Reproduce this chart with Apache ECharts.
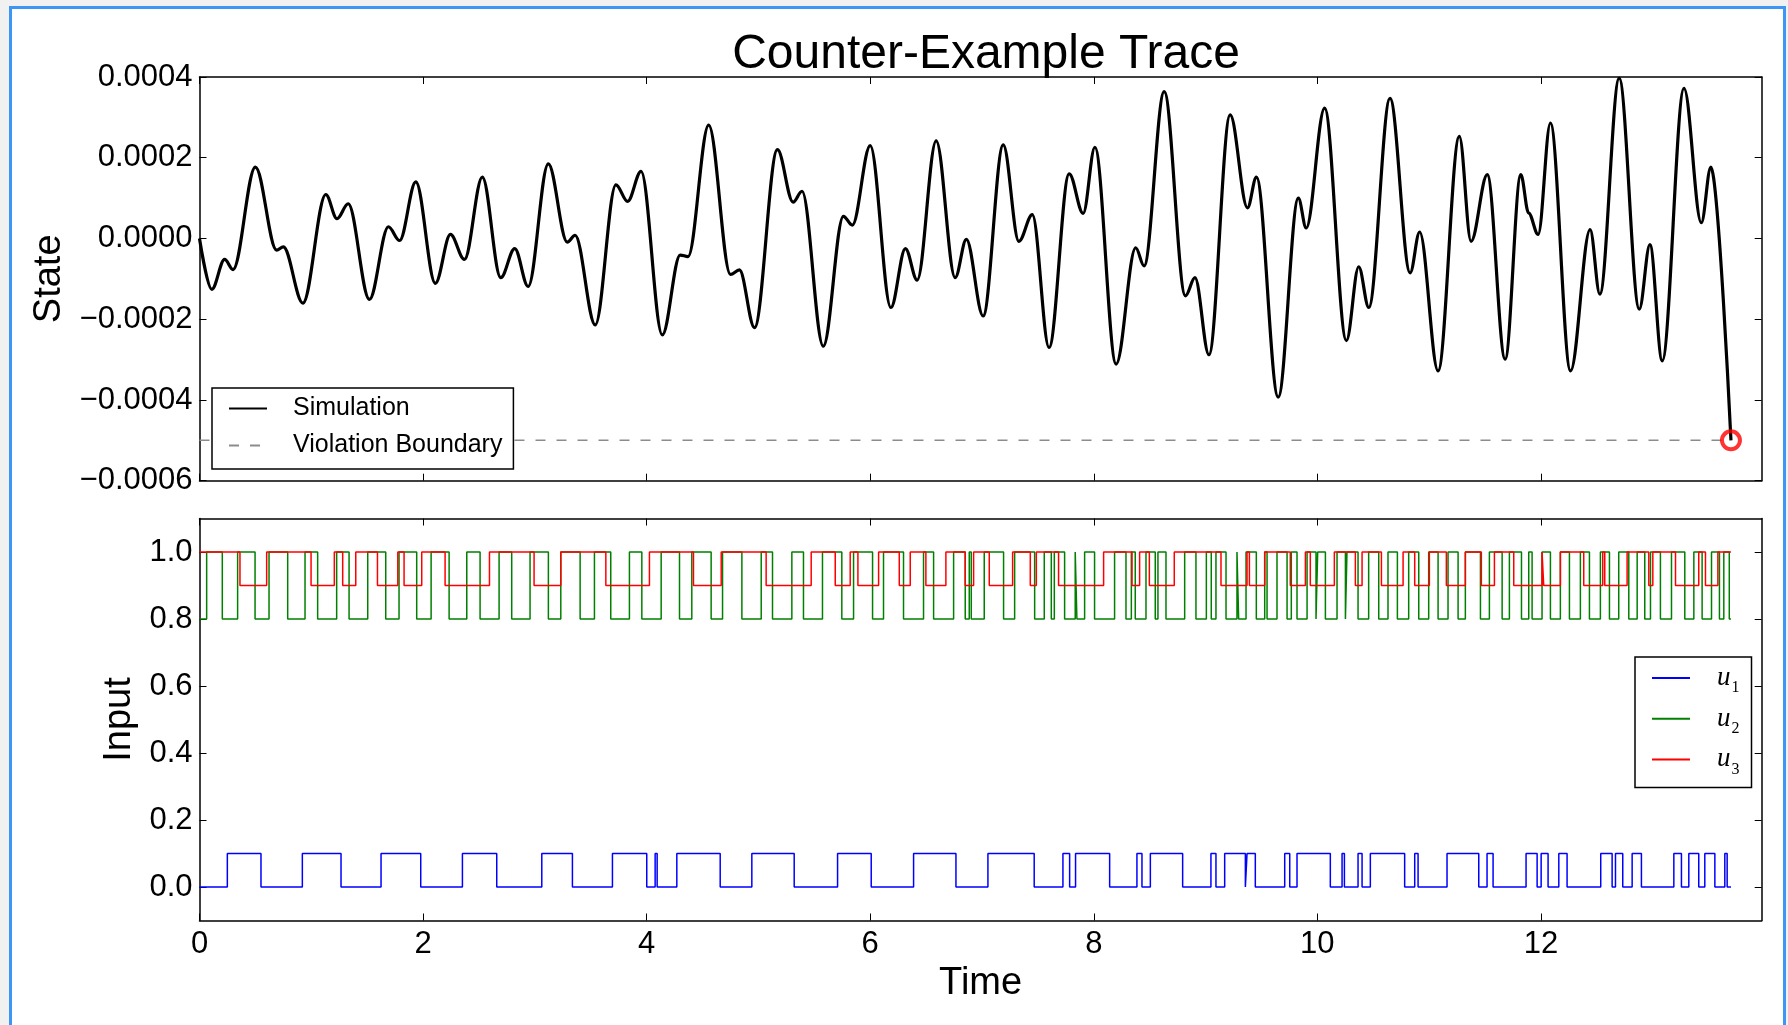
<!DOCTYPE html>
<html>
<head>
<meta charset="utf-8">
<title>Counter-Example Trace</title>
<script src="https://cdn.jsdelivr.net/npm/echarts@6/dist/echarts.min.js"></script>
<style>
    html, body { margin: 0; padding: 0; background: #f1f1f1; overflow: hidden; }
    #frame { position: absolute; left: 9px; top: 6px; width: 1771px; height: 1100px; border: 3px solid #3d96f5; background: #fff; }
    #main { position: absolute; left: 0; top: 0; width: 1788px; height: 1025px; }
</style>
</head>
<body>
<div id="frame"></div>
<div id="main"></div>
<script>
// state trace, read at its turning points (values in units of 1e-4)
var stateT = [0, 0.11, 0.225, 0.30, 0.50, 0.69, 0.75, 0.925, 1.13, 1.23,
    1.33, 1.52, 1.69, 1.79, 1.935, 2.11, 2.245, 2.37, 2.53, 2.695,
    2.82, 2.94, 3.12, 3.29, 3.36, 3.54, 3.725, 3.83, 3.95, 4.14,
    4.30, 4.37, 4.555, 4.75, 4.83, 4.965, 5.17, 5.31, 5.39, 5.58,
    5.76, 5.84, 6.00, 6.185, 6.315, 6.42, 6.59, 6.76, 6.86, 7.01,
    7.19, 7.33, 7.45, 7.60, 7.78, 7.905, 8.01, 8.20, 8.375, 8.45,
    8.63, 8.82, 8.905, 9.03, 9.22, 9.375, 9.455, 9.65, 9.83, 9.90,
    10.065, 10.26, 10.37, 10.46, 10.65, 10.83, 10.915, 11.08, 11.27, 11.375,
    11.52, 11.68, 11.82, 11.89, 11.975, 12.085, 12.265, 12.44, 12.527, 12.70,
    12.88, 12.975, 13.085, 13.28, 13.435, 13.52, 13.70];
var stateV = [0.00, -1.26, -0.52, -0.77, 1.77, -0.29, -0.21, -1.60, 1.09, 0.49,
    0.86, -1.51, 0.29, -0.05, 1.40, -1.11, 0.10, -0.52, 1.52, -0.97,
    -0.25, -1.19, 1.85, -0.09, 0.08, -2.14, 1.33, 0.92, 1.66, -2.39,
    -0.41, -0.45, 2.81, -0.89, -0.78, -2.21, 2.20, 0.90, 1.17, -2.67,
    0.55, 0.33, 2.30, -1.71, -0.25, -1.03, 2.42, -0.97, -0.02, -1.92,
    2.32, -0.07, 0.59, -2.70, 1.60, 0.62, 2.26, -3.11, -0.23, -0.68,
    3.64, -1.42, -0.97, -2.88, 3.06, 0.76, 1.52, -3.93, 1.00, 0.26,
    3.23, -2.53, -0.70, -1.71, 3.47, -0.85, 0.16, -3.28, 2.53, -0.07,
    1.58, -2.99, 1.58, 0.63, 0.10, 2.86, -3.28, 0.22, -1.38, 3.97,
    -1.75, -0.15, -3.03, 3.72, 0.39, 1.77, -5.00];
var boundary = -0.0005;
var tEnd = 13.70;

// inputs: switching instants, the series starts on the first level
var u1Levels = [0, 0.1];
var u1Switch = [0.249, 0.55, 0.92, 1.266, 1.624, 1.979, 2.352, 2.659, 3.062, 3.336,
    3.694, 4.001, 4.076, 4.094, 4.270, 4.658, 4.941, 5.320, 5.708, 6.009,
    6.388, 6.767, 7.053, 7.467, 7.724, 7.784, 7.837, 8.142, 8.386, 8.431,
    8.506, 8.795, 9.048, 9.093, 9.171, 9.356, 9.371, 9.445, 9.708, 9.753,
    9.818, 10.116, 10.221, 10.242, 10.364, 10.40, 10.474, 10.781, 10.871, 10.901,
    11.160, 11.444, 11.518, 11.572, 11.867, 11.966, 12.002, 12.064, 12.160, 12.234,
    12.535, 12.637, 12.667, 12.732, 12.816, 12.899, 13.189, 13.257, 13.323, 13.412,
    13.466, 13.556, 13.645, 13.666];
var u2Levels = [0.8, 1.0];
var u2Switch = [0.064, 0.204, 0.341, 0.497, 0.622, 0.789, 0.944, 1.057, 1.227, 1.338,
    1.505, 1.666, 1.785, 1.943, 2.072, 2.233, 2.391, 2.510, 2.680, 2.793,
    2.957, 3.121, 3.232, 3.405, 3.533, 3.679, 3.846, 3.957, 4.130, 4.294,
    4.404, 4.577, 4.679, 4.852, 5.025, 5.126, 5.299, 5.403, 5.573, 5.746,
    5.851, 6.021, 6.119, 6.298, 6.477, 6.567, 6.746, 6.850, 6.886, 6.904,
    7.020, 7.193, 7.292, 7.471, 7.557, 7.620, 7.647, 7.739, 7.834, 7.849,
    7.918, 8.007, 8.186, 8.288, 8.336, 8.371, 8.467, 8.550, 8.574, 8.646,
    8.813, 8.914, 9.007, 9.051, 9.093, 9.183, 9.281, 9.296, 9.362, 9.454,
    9.529, 9.550, 9.639, 9.729, 9.767, 9.818, 9.908, 9.988, 10.003, 10.072,
    10.176, 10.251, 10.265, 10.364, 10.459, 10.549, 10.632, 10.716, 10.817, 10.907,
    10.996, 11.080, 11.169, 11.259, 11.324, 11.459, 11.539, 11.653, 11.718, 11.826,
    11.891, 11.921, 12.010, 12.085, 12.174, 12.255, 12.353, 12.434, 12.532, 12.613,
    12.696, 12.786, 12.861, 12.929, 12.980, 13.069, 13.168, 13.287, 13.368, 13.442,
    13.526, 13.597, 13.636, 13.685];
var u3Levels = [1.0, 0.9];
var u3Switch = [0.362, 0.601, 0.998, 1.206, 1.281, 1.398, 1.592, 1.774, 1.830, 1.988,
    2.197, 2.594, 2.993, 3.232, 3.635, 4.025, 4.419, 4.667, 5.069, 5.472,
    5.687, 5.821, 5.890, 6.075, 6.260, 6.358, 6.498, 6.677, 6.850, 6.925,
    7.065, 7.274, 7.432, 7.486, 7.685, 8.088, 8.342, 8.410, 8.497, 8.720,
    9.138, 9.371, 9.392, 9.529, 9.758, 9.893, 9.937, 10.152, 10.340, 10.400,
    10.573, 10.767, 10.871, 11.002, 11.154, 11.324, 11.467, 11.584, 11.757, 12.010,
    12.025, 12.174, 12.383, 12.553, 12.571, 12.771, 12.965, 13.001, 13.204, 13.412,
    13.472, 13.583];

// axis ticks
var timeTicks = [0, 2, 4, 6, 8, 10, 12];
var stateTicks = [-0.0006, -0.0004, -0.0002, 0, 0.0002, 0.0004];
var inputTicks = [0, 0.2, 0.4, 0.6, 0.8, 1.0];

var font = 'Liberation Sans, Arial, Helvetica, sans-serif';
var xMax = 13.975;

function stepData(times, levels) {
    var d = [[0, levels[0]]];
    times.forEach(function (t, i) {
        d.push([t, levels[(i + 1) % 2]]);
    });
    d.push([tEnd, levels[times.length % 2]]);
    return d;
}

var stateData = stateT.map(function (t, i) { return [t, stateV[i] * 1e-4]; });

function xAxisOf(grid, pos, showLabel) {
    return {
        type: 'value', gridIndex: grid, position: pos, min: 0, max: xMax,
        splitLine: { show: false },
        axisLine: { onZero: false, lineStyle: { color: '#000', width: 1.5 } },
        axisTick: { inside: true, length: 7, customValues: timeTicks, lineStyle: { color: '#000', width: 1 } },
        axisLabel: { show: showLabel, customValues: timeTicks, margin: 8, fontSize: 31, color: '#000', fontFamily: font }
    };
}
function yAxisOf(grid, pos, min, max, ticks, fmt) {
    return {
        type: 'value', gridIndex: grid, position: pos, min: min, max: max,
        splitLine: { show: false },
        axisLine: { onZero: false, lineStyle: { color: '#000', width: 1.5 } },
        axisTick: { inside: true, length: 7, customValues: ticks, lineStyle: { color: '#000', width: 1 } },
        axisLabel: { show: !!fmt, customValues: ticks, margin: 7, fontSize: 31, color: '#000', fontFamily: font, formatter: fmt }
    };
}

var xAxes = [xAxisOf(0, 'bottom', false), xAxisOf(0, 'top', false), xAxisOf(1, 'bottom', true), xAxisOf(1, 'top', false)];
xAxes[2].name = 'Time';
xAxes[2].nameLocation = 'middle';
xAxes[2].nameGap = 44;
xAxes[2].nameTextStyle = { fontSize: 38, color: '#000', fontFamily: font };

var yAxes = [
    yAxisOf(0, 'left', -0.0006, 0.0004, stateTicks, function (v) {
        if (Math.abs(v) < 1e-10) return '0.0000';
        return (v < 0 ? '\u2212' : '') + Math.abs(v).toFixed(4);
    }),
    yAxisOf(0, 'right', -0.0006, 0.0004, stateTicks, null),
    yAxisOf(1, 'left', -0.1, 1.1, inputTicks, function (v) { return v.toFixed(1); }),
    yAxisOf(1, 'right', -0.1, 1.1, inputTicks, null)
];
yAxes[0].name = 'State';
yAxes[0].nameLocation = 'middle';
yAxes[0].nameGap = 125;
yAxes[0].nameTextStyle = { fontSize: 38, color: '#000', fontFamily: font };
yAxes[2].name = 'Input';
yAxes[2].nameLocation = 'middle';
yAxes[2].nameGap = 53;
yAxes[2].nameTextStyle = { fontSize: 38, color: '#000', fontFamily: font };

var myChart = echarts.init(document.getElementById('main'));
var option = {
    animation: false,
    title: {
        text: 'Counter-Example Trace',
        left: 981, top: 26, textAlign: 'center',
        textStyle: { fontSize: 48, fontWeight: 'normal', color: '#000', fontFamily: font }
    },
    grid: [
        { left: 199.5, top: 77, width: 1562.2, height: 403.7 },
        { left: 199.5, top: 518.5, width: 1562.2, height: 402 }
    ],
    legend: [{
        data: ['Simulation', 'Violation Boundary'],
        orient: 'vertical', left: 212, top: 388,
        padding: [8, 11, 11, 16],
        itemWidth: 38, itemHeight: 24, itemGap: 12,
        itemStyle: { opacity: 0 },
        backgroundColor: '#fff', borderColor: '#000', borderWidth: 1.5, borderRadius: 0,
        selectedMode: false,
        textStyle: { fontFamily: font, fontSize: 25, color: '#000', padding: [0, 0, 0, 21] }
    }, {
        data: ['u1', 'u2', 'u3'],
        orient: 'vertical', left: 1635, top: 657,
        padding: [3, 12, 10, 16],
        itemWidth: 38, itemHeight: 36, itemGap: 4.7,
        itemStyle: { opacity: 0 },
        lineStyle: { width: 2 },
        backgroundColor: '#fff', borderColor: '#000', borderWidth: 1.5, borderRadius: 0,
        selectedMode: false,
        formatter: function (name) { return '{u|u}{s|' + name.charAt(1) + '}'; },
        textStyle: {
            padding: [0, 0, 0, 22],
            rich: {
                u: { fontFamily: 'Liberation Serif', fontStyle: 'italic', fontSize: 27, lineHeight: 36, color: '#000' },
                s: { fontFamily: 'Liberation Serif', fontSize: 16, lineHeight: 16, padding: [20, 0, 0, 1], color: '#000' }
            }
        }
    }],
    xAxis: xAxes,
    yAxis: yAxes,
    series: [{
        name: 'Simulation', type: 'line', xAxisIndex: 0, yAxisIndex: 0,
        data: stateData, smooth: 0.35, smoothMonotone: 'x',
        symbol: 'none', lineStyle: { color: '#000', width: 3.2 }, itemStyle: { color: '#000' }, z: 3
    }, {
        name: 'Violation Boundary', type: 'line', xAxisIndex: 0, yAxisIndex: 0,
        data: [[0, boundary], [tEnd, boundary]],
        symbol: 'none', lineStyle: { color: '#8c8c8c', width: 1.5, type: [10, 11] }, itemStyle: { color: '#8c8c8c' }, z: 2
    }, {
        name: 'violation', type: 'scatter', xAxisIndex: 0, yAxisIndex: 0,
        data: [stateData[stateData.length - 1]],
        symbol: 'circle', symbolSize: 18,
        itemStyle: { color: 'rgba(0,0,0,0)', borderColor: '#ff0000', borderWidth: 4 }, z: 4
    }, {
        name: 'u1', type: 'line', xAxisIndex: 2, yAxisIndex: 2, step: 'end',
        data: stepData(u1Switch, u1Levels),
        symbol: 'none', lineStyle: { color: '#0000ff', width: 1.5 }, itemStyle: { color: '#0000ff' }
    }, {
        name: 'u2', type: 'line', xAxisIndex: 2, yAxisIndex: 2, step: 'end',
        data: stepData(u2Switch, u2Levels),
        symbol: 'none', lineStyle: { color: '#008000', width: 1.5 }, itemStyle: { color: '#008000' }
    }, {
        name: 'u3', type: 'line', xAxisIndex: 2, yAxisIndex: 2, step: 'end',
        data: stepData(u3Switch, u3Levels),
        symbol: 'none', lineStyle: { color: '#ff0000', width: 1.5 }, itemStyle: { color: '#ff0000' }
    }]
};
myChart.setOption(option);
</script>
</body>
</html>
